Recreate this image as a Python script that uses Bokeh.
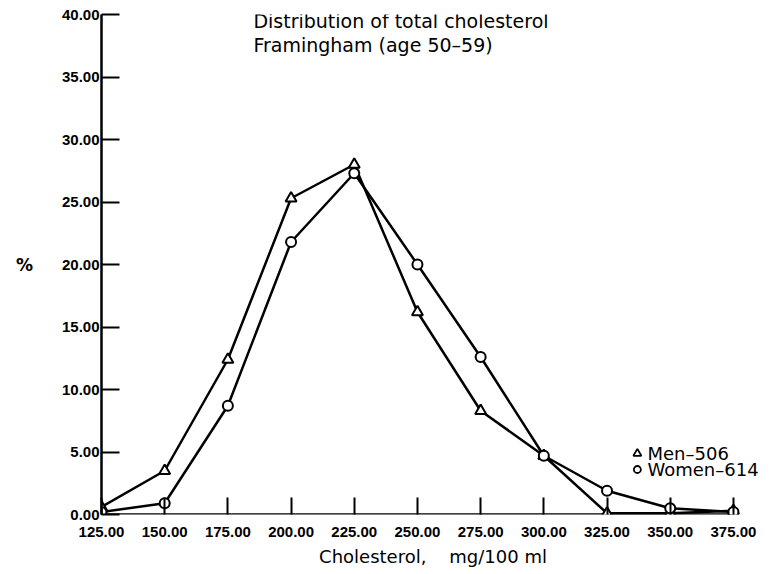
from bokeh.plotting import figure
from bokeh.models import FixedTicker, Label, PrintfTickFormatter, Range1d
from bokeh.embed import file_html
from bokeh.resources import INLINE

# Data
cholesterol = [125, 150, 175, 200, 225, 250, 275, 300, 325, 350, 375]
men = [0.6, 3.5, 12.4, 25.3, 28.0, 16.2, 8.3, 4.7, 0.1, 0.1, 0.3]
women = [0.2, 0.9, 8.7, 21.8, 27.3, 20.0, 12.6, 4.7, 1.9, 0.5, 0.2]
x_ticks = [125, 150, 175, 200, 225, 250, 275, 300, 325, 350, 375]
y_ticks = [0, 5, 10, 15, 20, 25, 30, 35, 40]
title_lines = ["Distribution of total cholesterol", "Framingham (age 50\u201359)"]
legend_labels = ["Men\u2013506", "Women\u2013614"]

NUMFONT = "Liberation Sans"
FONT = "DejaVu Sans"

p = figure(width=768, height=570,
           x_range=Range1d(125, 387.3), y_range=Range1d(0, 40),
           output_backend="svg", toolbar_location=None,
           min_border_left=101, min_border_right=4,
           min_border_top=14, min_border_bottom=56)
p.outline_line_color = None
p.xgrid.visible = False
p.ygrid.visible = False
p.background_fill_color = "white"
p.border_fill_color = "white"

for ax in (p.xaxis[0], p.yaxis[0]):
    ax.axis_line_width = 2.5
    ax.axis_line_color = "black"
    ax.major_tick_line_width = 2
    ax.major_tick_line_color = "black"
    ax.major_tick_out = 0
    ax.minor_tick_line_color = None
    ax.major_label_text_font = NUMFONT
    ax.major_label_text_font_size = "15px"
    ax.major_label_text_font_style = "bold"
    ax.major_label_text_color = "black"
    ax.formatter = PrintfTickFormatter(format="%.2f")

p.xaxis[0].axis_line_color = None
p.xaxis[0].ticker = FixedTicker(ticks=x_ticks)
p.yaxis[0].ticker = FixedTicker(ticks=y_ticks)
p.xaxis[0].major_tick_in = 17
p.yaxis[0].major_tick_in = 18
p.xaxis[0].major_label_standoff = 12
p.yaxis[0].major_label_standoff = 2

p.xaxis[0].axis_label = "Cholesterol,\u00a0\u00a0\u00a0 mg/100 ml"
p.xaxis[0].axis_label_text_font = FONT
p.xaxis[0].axis_label_text_font_size = "18px"
p.xaxis[0].axis_label_text_font_style = "normal"
p.xaxis[0].axis_label_text_color = "black"
p.xaxis[0].axis_label_standoff = 6

# y axis label "%" (horizontal)
yax = p.yaxis[0]
yax.axis_label = "%"
yax.axis_label_text_font = FONT
yax.axis_label_text_font_size = "17px"
yax.axis_label_text_font_style = "bold"
yax.axis_label_text_color = "black"
yax.axis_label_standoff = 26
if "axis_label_orientation" in yax.properties():
    yax.axis_label_orientation = "horizontal"

# x axis line only over the tick span
p.segment(x0=[x_ticks[0]], y0=[y_ticks[0]], x1=[x_ticks[-1]], y1=[y_ticks[0]],
          line_width=2.5, line_color="black")

# series
p.line(cholesterol, men, line_width=2.5, line_color="black")
p.line(cholesterol, women, line_width=2.5, line_color="black")
p.scatter(cholesterol, men, marker="triangle", size=11, fill_color="white",
          line_color="black", line_width=2)
p.scatter(cholesterol, women, marker="circle", size=10, fill_color="white",
          line_color="black", line_width=2)

# title lines
for i, t in enumerate(title_lines):
    p.add_layout(Label(x=185.1, y=39.52 - 1.92 * i, text=t, text_font=FONT,
                       text_font_size="19px", text_align="left", text_baseline="middle",
                       text_color="black"))

# legend
p.scatter([337.0], [4.88], marker="triangle", size=8, fill_color="white",
          line_color="black", line_width=1.8)
p.scatter([337.0], [3.6], marker="circle", size=7, fill_color="white",
          line_color="black", line_width=1.8)
for i, t in enumerate(legend_labels):
    p.add_layout(Label(x=341.0, y=4.88 - 1.28 * i, text=t, text_font=FONT,
                       text_font_size="18px", text_align="left", text_baseline="middle",
                       text_color="black"))

open("out.html", "w").write(file_html(p, INLINE))
